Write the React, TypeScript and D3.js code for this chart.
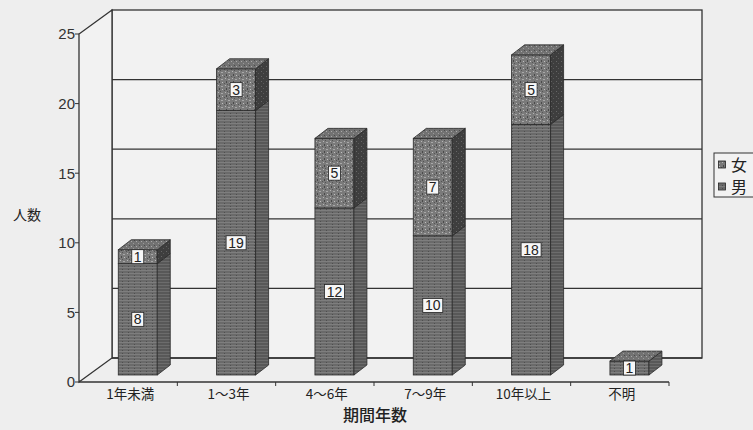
import React from 'react';
import * as d3 from 'd3';

const categories = ['1年未満', '1～3年', '4～6年', '7～9年', '10年以上', '不明'];
const maleValues = [8, 19, 12, 10, 18, 1];
const femaleValues = [1, 3, 5, 7, 5, 0];
const yTicks = [0, 5, 10, 15, 20, 25];
const gridValues = [5, 10, 15, 20];
const legendItems = ['女', '男'];

const W = 753;
const H = 430;
const x0 = 79, x1 = 669;
const yBase = 382, yTop = 34;
const DX = 33, DY = -24; // wall depth
const BZX = 9.6, BZY = -7; // bar front offset
const BDX = 13, BDY = -10; // bar depth
const BAR_W = 39;

const FONT_NUM = '"Liberation Sans", Arial, sans-serif';
const FONT_JP = '"Noto Sans CJK JP", "Noto Sans", sans-serif';

export default function App() {
  const y = d3.scaleLinear().domain([0, 25]).range([yBase, yTop]);
  const xb = d3.scaleBand<string>().domain(categories).range([x0, x1]).padding(0);
  const bw = xb.bandwidth();

  const bars = categories.map((c, i) => {
    const cx = (xb(c) as number) + bw / 2 + BZX;
    const left = cx - BAR_W / 2;
    const right = cx + BAR_W / 2;
    const segs = [
      { key: 'm', v0: 0, v1: maleValues[i], kind: 'male' },
      { key: 'f', v0: maleValues[i], v1: maleValues[i] + femaleValues[i], kind: 'female' },
    ].filter((s) => s.v1 > s.v0);
    return { c, i, cx, left, right, segs };
  });

  const py = (v: number) => y(v) + BZY;

  return (
    <div style={{ position: 'absolute', left: 0, top: 0 }}>
      <svg width={W} height={H} style={{ display: 'block', background: '#eeeeee' }}>
        <defs>
          <pattern id="maleP" width="6" height="3" patternUnits="userSpaceOnUse">
            <rect width="6" height="3" fill="#6a6a6a" />
            <rect y="0" width="6" height="1" fill="#7e7e7e" />
            <rect x="2" y="2" width="1" height="1" fill="#4e4e4e" />
          </pattern>
          <pattern id="maleSideP" width="6" height="3" patternUnits="userSpaceOnUse">
            <rect width="6" height="3" fill="#585858" />
            <rect y="0" width="6" height="1" fill="#6c6c6c" />
          </pattern>
          <pattern id="femaleP" width="7" height="7" patternUnits="userSpaceOnUse">
            <rect width="7" height="7" fill="#7a7a7a" />
            <rect x="1" y="1" width="1" height="1" fill="#b5b5b5" />
            <rect x="4" y="2" width="2" height="1" fill="#a8a8a8" />
            <rect x="2" y="4" width="1" height="2" fill="#4a4a4a" />
            <rect x="5" y="5" width="1" height="1" fill="#c0c0c0" />
            <rect x="0" y="6" width="1" height="1" fill="#555" />
            <rect x="3" y="0" width="1" height="1" fill="#555" />
          </pattern>
          <pattern id="femaleSideP" width="5" height="5" patternUnits="userSpaceOnUse">
            <rect width="5" height="5" fill="#3e3e3e" />
            <rect x="1" y="1" width="1" height="1" fill="#666" />
            <rect x="3" y="3" width="1" height="1" fill="#5a5a5a" />
          </pattern>
          <pattern id="topP" width="5" height="5" patternUnits="userSpaceOnUse">
            <rect width="5" height="5" fill="#727272" />
            <rect x="1" y="1" width="1" height="1" fill="#aaa" />
            <rect x="3" y="3" width="1" height="1" fill="#999" />
            <rect x="4" y="0" width="1" height="1" fill="#4c4c4c" />
          </pattern>
        </defs>

        {/* back wall */}
        <rect x={x0 + DX} y={y(25) + DY} width={x1 - x0} height={y(0) - y(25)} fill="#f2f2f2" stroke="#333" strokeWidth={1.3} />
        {gridValues.map((v) => (
          <line key={v} x1={x0 + DX} x2={x1 + DX} y1={y(v) + DY} y2={y(v) + DY} stroke="#333" strokeWidth={1.3} />
        ))}
        {/* left wall */}
        <path
          d={`M${x0},${y(0)} L${x0},${y(25)} L${x0 + DX},${y(25) + DY} L${x0 + DX},${y(0) + DY} Z`}
          fill="#f2f2f2"
          stroke="#333"
          strokeWidth={1.3}
        />
        {/* floor */}
        <line x1={x0} x2={x1} y1={y(0)} y2={y(0)} stroke="#333" strokeWidth={1.5} />
        <line x1={x0 + DX} x2={x1 + DX} y1={y(0) + DY} y2={y(0) + DY} stroke="#333" strokeWidth={1.3} />

        {/* y ticks */}
        {yTicks.map((v) => (
          <g key={v}>
            <line x1={x0 - 4} x2={x0} y1={y(v)} y2={y(v)} stroke="#333" strokeWidth={1} />
            <text x={x0 - 4} y={y(v)} dy="0.36em" textAnchor="end" fontFamily={FONT_NUM} fontSize={15} fill="#333">
              {v}
            </text>
          </g>
        ))}
        {/* x ticks */}
        {categories.map((c) => (
          <line key={c} x1={(xb(c) as number) + bw} x2={(xb(c) as number) + bw} y1={y(0)} y2={y(0) + 4} stroke="#333" strokeWidth={1} />
        ))}
        {categories.map((c) => (
          <text key={c} x={(xb(c) as number) + bw / 2 + 2} y={y(0) + 12} dy="0.35em" textAnchor="middle" fontFamily={FONT_JP} fontSize={13.5} fill="#222">
            {c}
          </text>
        ))}

        {/* bars */}
        {bars.map((b) => (
          <g key={b.c}>
            {b.segs.map((s) => {
              const yt = py(s.v1);
              const yb = py(s.v0);
              const frontFill = s.kind === 'male' ? 'url(#maleP)' : 'url(#femaleP)';
              const sideFill = s.kind === 'male' ? 'url(#maleSideP)' : 'url(#femaleSideP)';
              return (
                <g key={s.key}>
                  <rect x={b.left} y={yt} width={BAR_W} height={yb - yt} fill={frontFill} stroke="#2a2a2a" strokeWidth={0.8} />
                  <path
                    d={`M${b.right},${yb} L${b.right + BDX},${yb + BDY} L${b.right + BDX},${yt + BDY} L${b.right},${yt} Z`}
                    fill={sideFill}
                    stroke="#2a2a2a"
                    strokeWidth={0.8}
                  />
                </g>
              );
            })}
            {(() => {
              const tot = maleValues[b.i] + femaleValues[b.i];
              const yt = py(tot);
              return (
                <path
                  d={`M${b.left},${yt} L${b.left + BDX},${yt + BDY} L${b.right + BDX},${yt + BDY} L${b.right},${yt} Z`}
                  fill="url(#topP)"
                  stroke="#2a2a2a"
                  strokeWidth={0.8}
                />
              );
            })()}
            {b.segs.map((s) => {
              const v = s.v1 - s.v0;
              const ym = (py(s.v0) + py(s.v1)) / 2;
              const label = String(v);
              const w = label.length === 1 ? 12 : 20;
              return (
                <g key={'l' + s.key}>
                  <rect x={b.cx - w / 2} y={ym - 7} width={w} height={14} fill="#f6f6f6" stroke="#222" strokeWidth={0.8} />
                  <text x={b.cx} y={ym} dy="0.36em" textAnchor="middle" fontFamily={FONT_NUM} fontSize={14} fill="#222">
                    {label}
                  </text>
                </g>
              );
            })}
          </g>
        ))}

        {/* axis titles */}
        <text x={27} y={215} dy="0.35em" textAnchor="middle" fontFamily={FONT_JP} fontSize={14} fill="#222">
          人数
        </text>
        <text x={375} y={415} dy="0.35em" textAnchor="middle" fontFamily={FONT_JP} fontSize={16} fontWeight={500} fill="#222">
          期間年数
        </text>

        {/* legend */}
        <rect x={714} y={153} width={50} height={44} fill="#f2f2f2" stroke="#333" strokeWidth={1} />
        {legendItems.map((l, i) => (
          <g key={l}>
            <rect x={718.5} y={161 + i * 22} width={7} height={7} fill={i === 0 ? 'url(#femaleP)' : 'url(#maleP)'} stroke="#222" strokeWidth={0.8} />
            <text x={731} y={165 + i * 22} dy="0.36em" fontFamily={FONT_JP} fontSize={16} fill="#222">
              {l}
            </text>
          </g>
        ))}
      </svg>
    </div>
  );
}
